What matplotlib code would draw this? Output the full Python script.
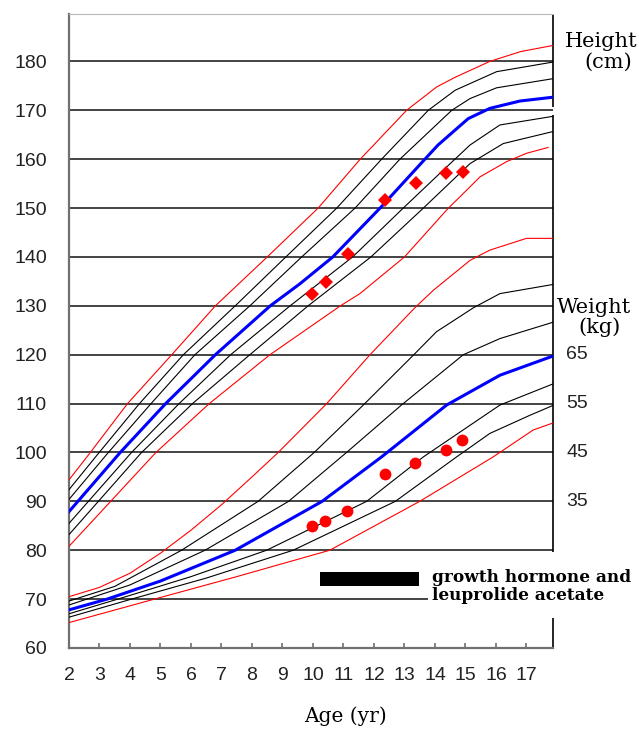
import matplotlib
matplotlib.use('Agg')
import matplotlib.pyplot as plt
import matplotlib.transforms as mtransforms
from matplotlib import font_manager

# height percentile curves (age in yr, height in cm)
h97_age = [2, 2.7, 3.92, 5.37, 6.8, 8.5, 10.17, 11.55, 13.07, 14.06, 14.71, 15.8, 16.8, 17.9]
h97_val = [94.4, 100, 110, 120, 130, 140, 150, 160, 170, 174.8, 176.9, 180, 182, 183.3]
h90_age = [2, 2.99, 4.31, 5.75, 7.45, 9.11, 10.78, 12.25, 13.78, 14.66, 16.02, 17.9]
h90_val = [92.4, 100, 110, 120, 130, 140, 150, 160, 170, 174.1, 177.9, 179.9]
h75_age = [2, 3.29, 4.69, 6.13, 7.93, 9.63, 11.38, 12.85, 14.55, 15.15, 16.02, 17.9]
h75_val = [90.4, 100, 110, 120, 130, 140, 150, 160, 170, 172.4, 174.6, 176.5]
h50_age = [2, 3.68, 5.17, 6.8, 8.6, 9.57, 10.65, 12.2, 13.67, 14.1, 15.09, 15.8, 16.79, 17.9]
h50_val = [87.9, 100, 110, 120, 130, 134.5, 140, 150, 160, 162.9, 168.3, 170.4, 171.9, 172.7]
h25_age = [2, 4.05, 5.61, 7.3, 9.25, 11.3, 12.96, 14.16, 15.15, 16.13, 17.9]
h25_val = [85.5, 100, 110, 120, 130, 140, 150, 157.1, 162.9, 167.0, 168.8]
h10_age = [2, 4.38, 6.05, 7.93, 9.84, 11.9, 13.62, 15.15, 16.24, 17.9]
h10_val = [83.2, 100, 110, 120, 130, 140, 150, 159.1, 163.2, 165.7]
h3_age = [2, 4.85, 6.6, 8.59, 10.9, 11.54, 13.0, 14.44, 14.77, 15.48, 16.35, 17.0, 17.71]
h3_val = [80.8, 100, 110, 120, 130, 132.5, 140, 150, 152, 156.4, 159.5, 161.2, 162.4]

# weight percentile curves, in kg
w97_age = [2, 3, 4, 5, 6, 7, 8, 8.86, 10.45, 11.87, 13.34, 13.95, 15.15, 15.8, 17.0, 17.9]
w97_kg = [15.5, 17.4, 20.3, 24.4, 29.1, 34.3, 40.0, 45.0, 55.0, 65.0, 74.6, 78.2, 84.3, 86.4, 88.8, 88.8]
w90_age = [2, 3.5, 5.69, 8.2, 10.04, 11.65, 13.29, 14.05, 15.26, 16.13, 17.9]
w90_kg = [14.6, 17.6, 25.0, 35.0, 45.0, 54.7, 64.9, 69.7, 74.6, 77.5, 79.4]
w75_age = [2, 4, 6.46, 9.2, 11.1, 12.9, 14.93, 16.13, 17.9]
w75_kg = [13.8, 17.9, 25.0, 35.0, 45.0, 54.7, 65.0, 68.3, 71.7]
w50_age = [2, 3.25, 5.0, 7.45, 10.3, 12.25, 14.38, 16.13, 17.9]
w50_kg = [12.8, 15.0, 18.7, 25.0, 35.0, 44.1, 54.7, 60.8, 64.8]
w25_age = [2, 3.6, 6.0, 8.48, 11.76, 13.62, 16.13, 17.9]
w25_kg = [12.0, 15.0, 19.6, 25.0, 35.0, 44.1, 54.7, 59.1]
w10_age = [2, 4.05, 6.5, 9.35, 12.7, 14.71, 15.8, 17.11, 17.9]
w10_kg = [11.3, 15.0, 19.3, 25.0, 35.0, 44.1, 48.9, 52.6, 54.7]
w3_age = [2, 4.8, 7.5, 10.55, 13.5, 15.91, 17.22, 17.9]
w3_kg = [10.2, 15.0, 19.6, 25.0, 35.0, 44.1, 49.6, 51.1]

# patient measurements
pt_age_h = [9.98, 10.42, 11.14, 12.36, 13.37, 14.36, 14.93]
pt_height = [132.5, 134.9, 140.6, 151.7, 155.2, 157.2, 157.4]
pt_age_w = [9.96, 10.39, 11.1, 12.36, 13.34, 14.35, 14.9]
pt_weight = [30.0, 31.0, 33.0, 40.6, 42.8, 45.5, 47.5]

# treatment period (yr)
treatment = [10.23, 13.48]

age_ticks = list(range(2, 18))
height_ticks = list(range(60, 181, 10))
weight_ticks = [35, 45, 55, 65]
weight_offset = 55  # weight kg drawn on the height scale at kg + 55

height_curves = [(h97_age, h97_val, 'red'), (h90_age, h90_val, 'black'), (h75_age, h75_val, 'black'),
                 (h50_age, h50_val, 'blue'), (h25_age, h25_val, 'black'), (h10_age, h10_val, 'black'),
                 (h3_age, h3_val, 'red')]
weight_curves = [(w97_age, w97_kg, 'red'), (w90_age, w90_kg, 'black'), (w75_age, w75_kg, 'black'),
                 (w50_age, w50_kg, 'blue'), (w25_age, w25_kg, 'black'), (w10_age, w10_kg, 'black'),
                 (w3_age, w3_kg, 'red')]

try:
    font_manager.findfont('Liberation Sans Narrow', fallback_to_default=False)
    num_font, num_size = 'Liberation Sans Narrow', 15
except Exception:
    num_font, num_size = 'Liberation Sans', 14
serif = 'DejaVu Serif'

W, H = 639, 729
fig = plt.figure(figsize=(W / 100, H / 100), dpi=100)
fig.patch.set_facecolor('white')
ax = fig.add_axes([69 / W, 1 - 648 / H, (553 - 69) / W, (648 - 14) / H])
xmin, xmax = 2, 17.87
ax.set_xlim(xmin, xmax)
ax.set_ylim(60, 189.7)

# horizontal grid
ax.hlines([v for v in height_ticks if v > 70], xmin, xmax, color='#111111', lw=1.1, zorder=1)
ax.hlines(70, xmin, 13.77, color='#111111', lw=1.1, zorder=1)

for a, v, c in height_curves:
    ax.plot(a, v, color=c, lw=2.2 if c == 'blue' else 0.8, zorder=3)
for a, v, c in weight_curves:
    ax.plot(a, [k + weight_offset for k in v], color=c, lw=2.2 if c == 'blue' else 0.8, zorder=3)

ax.plot(pt_age_h, pt_height, 'D', color='red', ms=7.5, mew=0, zorder=5)
ax.plot(pt_age_w, [k + weight_offset for k in pt_weight], 'o', color='red', ms=8.5, mew=0, zorder=5)

ax.barh(74.1, treatment[1] - treatment[0], left=treatment[0], height=2.8, color='black', zorder=4)
ax.text(13.9, 73.5, 'growth hormone and', family=serif, fontsize=12.2, fontweight='bold', va='baseline')
ax.text(13.9, 69.8, 'leuprolide acetate', family=serif, fontsize=12.2, fontweight='bold', va='baseline')

# spines
for s in ['left', 'bottom']:
    ax.spines[s].set_color('#707070')
    ax.spines[s].set_linewidth(1.6)
ax.spines['top'].set_color('#b8b8b8')
ax.spines['top'].set_linewidth(0.8)
ax.spines['right'].set_visible(False)
ax.vlines([xmax] * 3, [60, 79.6, 170.7], [66.1, 169.0, 189.7], color='black', lw=1.2, clip_on=False)

ax.set_xticks(age_ticks)
ax.set_yticks(height_ticks)
ax.tick_params(axis='x', direction='in', length=3.5, width=1.2, color='#707070', pad=14)
ax.tick_params(axis='y', length=0, pad=16)
for lab in ax.get_xticklabels() + ax.get_yticklabels():
    lab.set_family(num_font)
    lab.set_fontsize(num_size)
    lab.set_color('#222222')

trans = mtransforms.blended_transform_factory(ax.transAxes, ax.transData)
for w in weight_ticks:
    ax.text(1.027, w + weight_offset, str(w), transform=trans, family=num_font, fontsize=num_size,
            color='#222222', va='center', ha='left')

fig.text(565 / W, 1 - 47 / H, 'Height', family=serif, fontsize=15, va='baseline', ha='left')
fig.text(608 / W, 1 - 68 / H, '(cm)', family=serif, fontsize=15, va='baseline', ha='center')
fig.text(557 / W, 1 - 313 / H, 'Weight', family=serif, fontsize=15, va='baseline', ha='left')
fig.text(600 / W, 1 - 333 / H, '(kg)', family=serif, fontsize=15, va='baseline', ha='center')
fig.text(345 / W, 1 - 722 / H, 'Age (yr)', family=serif, fontsize=14.5, va='baseline', ha='center')

fig.savefig('out.png', dpi=100, facecolor='white')
